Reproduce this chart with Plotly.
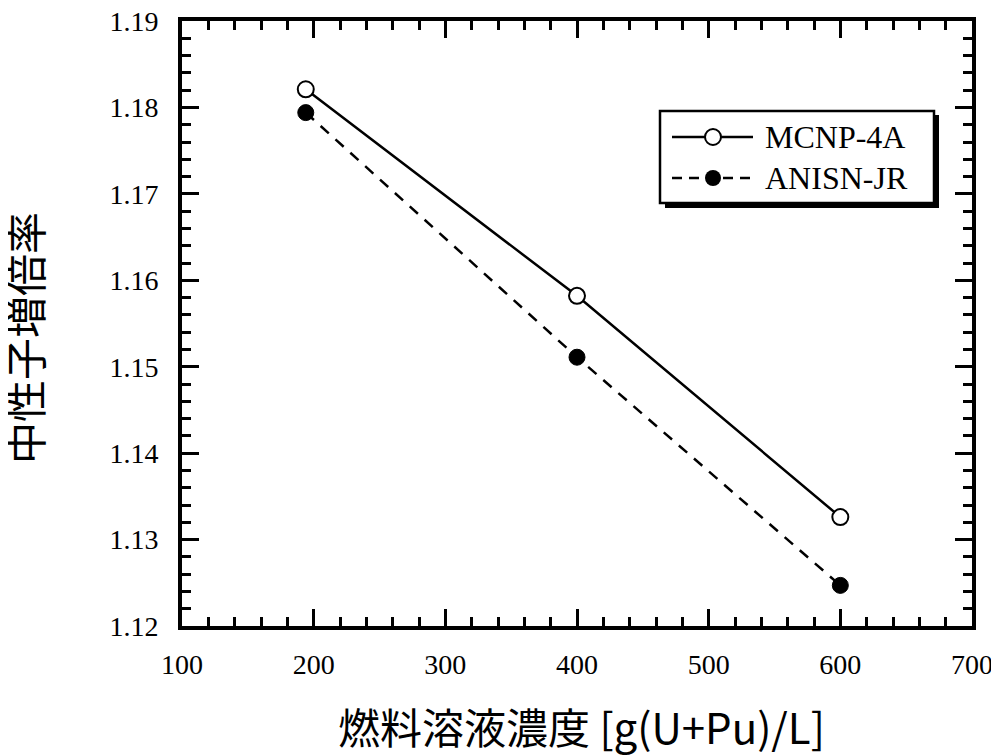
import plotly.graph_objects as go

# ---- data ----
concentration = [194, 400, 600]
mcnp_4a = [1.1821, 1.1582, 1.1326]
anisn_jr = [1.1794, 1.1511, 1.1247]
series_names = ["MCNP-4A", "ANISN-JR"]
x_title = "燃料溶液濃度 [g(U+Pu)/L]"
y_title = "中性子増倍率"
x_ticks = [100, 200, 300, 400, 500, 600, 700]
y_ticks = [1.12, 1.13, 1.14, 1.15, 1.16, 1.17, 1.18, 1.19]

# ---- layout geometry (page pixels; the html body adds an 8px margin) ----
OFF = 8
W, H = 999 - OFF, 756 - OFF
L, R, T, B = 182 - OFF, 972 - OFF, 21 - OFF, 626 - OFF   # plot area in figure pixels
pw, ph = R - L, B - T

serif = "Liberation Serif, Times New Roman, serif"
cjk = "Noto Sans CJK JP, sans-serif"

fig = go.Figure()

fig.add_trace(go.Scatter(
    x=concentration, y=mcnp_4a, name=series_names[0], mode="lines+markers",
    line=dict(color="black", width=2.5),
    marker=dict(symbol="circle", size=16, color="white", line=dict(color="black", width=2)),
    showlegend=False, cliponaxis=False))
fig.add_trace(go.Scatter(
    x=concentration, y=anisn_jr, name=series_names[1], mode="lines+markers",
    line=dict(color="black", width=2.5, dash="11px,9px"),
    marker=dict(symbol="circle", size=16, color="black", line=dict(color="black", width=1)),
    showlegend=False, cliponaxis=False))

# ---- custom legend on overlay axes measured in page pixels ----
leg_y1, leg_y2 = 137, 178
fig.add_trace(go.Scatter(x=[672, 753], y=[leg_y1, leg_y1], mode="lines",
                         line=dict(color="black", width=2.5), xaxis="x2", yaxis="y2",
                         showlegend=False, hoverinfo="skip"))
fig.add_trace(go.Scatter(x=[713], y=[leg_y1], mode="markers",
                         marker=dict(symbol="circle", size=16, color="white", line=dict(color="black", width=2)),
                         xaxis="x2", yaxis="y2", showlegend=False, hoverinfo="skip"))
fig.add_trace(go.Scatter(x=[672, 755], y=[leg_y2, leg_y2], mode="lines",
                         line=dict(color="black", width=2.5, dash="10px,7px"), xaxis="x2", yaxis="y2",
                         showlegend=False, hoverinfo="skip"))
fig.add_trace(go.Scatter(x=[713], y=[leg_y2], mode="markers",
                         marker=dict(symbol="circle", size=16, color="black"),
                         xaxis="x2", yaxis="y2", showlegend=False, hoverinfo="skip"))

shapes = [
    dict(type="rect", xref="x2", yref="y2", x0=665, x1=939, y0=115, y1=208,
         fillcolor="black", line=dict(width=0), layer="below"),
    dict(type="rect", xref="x2", yref="y2", x0=660, x1=934, y0=111, y1=203,
         fillcolor="white", line=dict(color="black", width=2.5), layer="below"),
]

def paper_x(page_px):
    return (page_px - OFF - L) / pw

def paper_y(page_py):
    return (B - (page_py - OFF)) / ph

annotations = [
    dict(text=series_names[0], xref="x2", yref="y2", x=763, y=leg_y1, xanchor="left", yanchor="middle",
         showarrow=False, font=dict(family=serif, size=32, color="black")),
    dict(text=series_names[1], xref="x2", yref="y2", x=763, y=leg_y2, xanchor="left", yanchor="middle",
         showarrow=False, font=dict(family=serif, size=32, color="black")),
    dict(text=x_title, xref="paper", yref="paper", x=paper_x(581), y=paper_y(726),
         xanchor="center", yanchor="middle", showarrow=False,
         font=dict(family=cjk, size=42, color="black")),
    dict(text=y_title, xref="paper", yref="paper", x=paper_x(24), y=paper_y(338),
         xanchor="center", yanchor="middle", showarrow=False, textangle=-90,
         font=dict(family=cjk, size=42, color="black")),
]

axis_common = dict(
    showline=True, linecolor="black", linewidth=4, mirror="allticks",
    ticks="inside", ticklen=17, tickwidth=3, tickcolor="black",
    showgrid=False, zeroline=False, automargin=False, ticklabeloverflow="allow",
    tickfont=dict(family=serif, size=28, color="black"),
)

fig.update_layout(
    width=W, height=H,
    margin=dict(l=L, r=W - R, t=T, b=H - B),
    paper_bgcolor="white", plot_bgcolor="white",
    xaxis=dict(range=[100, 700], tickvals=x_ticks, ticktext=[str(v) for v in x_ticks],
               minor=dict(dtick=20, ticks="inside", ticklen=9, tickwidth=3, tickcolor="black"),
               ticklabelstandoff=10, **axis_common),
    yaxis=dict(range=[1.12, 1.19], tickvals=y_ticks, ticktext=[f"{v:.2f}" for v in y_ticks],
               minor=dict(dtick=0.002, ticks="inside", ticklen=9, tickwidth=3, tickcolor="black"),
               ticklabelstandoff=14, **axis_common),
    xaxis2=dict(overlaying="x", range=[L + OFF, R + OFF], visible=False, fixedrange=True),
    yaxis2=dict(overlaying="y", range=[B + OFF, T + OFF], visible=False, fixedrange=True),
    shapes=shapes,
    annotations=annotations,
)

fig.write_html("out.html")
